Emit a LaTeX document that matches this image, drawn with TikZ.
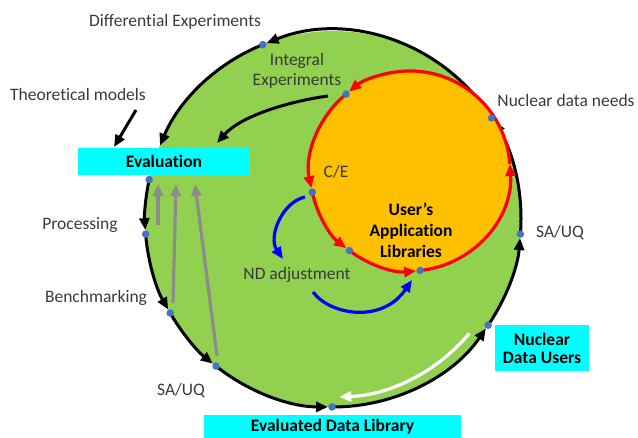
\documentclass[tikz,border=0pt]{standalone}
\usepackage{fontspec}
\setmainfont{Carlito}[Ligatures=NoCommon]
\usetikzlibrary{arrows.meta,calc}
\definecolor{grn}{HTML}{92D050}
\definecolor{org}{HTML}{FFC000}
\definecolor{dotblue}{HTML}{4472C4}
\definecolor{txtgray}{HTML}{3A3A3A}
\definecolor{cyanbox}{HTML}{00FFFF}
\definecolor{gry}{HTML}{8C8C8C}
\begin{document}
\begin{tikzpicture}[x=1pt,y=1pt,
  lbl/.style={text=txtgray, font=\fontsize{17.5}{20}\selectfont, align=center, inner sep=0},
  boxlbl/.style={fill=cyanbox, text=black, font=\fontsize{17.5}{18}\selectfont\bfseries, align=center, inner sep=0},
  inlbl/.style={text=black, font=\fontsize{17.5}{21}\selectfont\bfseries, align=center, inner sep=0},
  dot/.style={circle, fill=dotblue, inner sep=0, minimum size=7.5pt},
  tip/.style={-{Triangle[length=12pt,width=10pt]}},
  blk/.style={draw=black, line width=3pt, tip},
  redarc/.style={draw=red, line width=3.2pt, tip},
  bluearr/.style={draw=blue, line width=3.2pt, tip},
  grayarr/.style={draw=gry, line width=3.2pt, tip},
  whitearr/.style={draw=white, line width=3.2pt, tip},
]
\useasboundingbox (0,0) rectangle (638,437);
\coordinate (C) at (333,218);
\coordinate (R) at (410,266);
% big circle
\fill[grn] (C) circle[radius=188];
% points on big circle
\coordinate (pNdn)  at ($(C)+(32.5:188)$);
\coordinate (pDiff) at ($(C)+(111.9:188)$);
\coordinate (pEval) at ($(C)+(167.9:188)$);
\coordinate (pProc) at ($(C)+(184.6:188)$);
\coordinate (pBench) at ($(C)+(210:188)$);
\coordinate (pSAL) at ($(C)+(231.5:188)$);
\coordinate (pEDL) at ($(C)+(269.7:188)$);
\coordinate (pNDU) at ($(C)+(325.6:188)$);
\coordinate (pSAR) at ($(C)+(355.4:188)$);
% black cycle
\draw[blk,shorten >=4pt] (pNdn) arc[start angle=32.5, end angle=111.9, radius=188];
\draw[blk] (pDiff) arc[start angle=111.9, end angle=157, radius=188];
\draw[blk,shorten >=4pt] (pEval) arc[start angle=167.9, end angle=184.6, radius=188];
\draw[blk,shorten >=4pt] (pProc) arc[start angle=184.6, end angle=210, radius=188];
\draw[blk,shorten >=4pt] (pBench) arc[start angle=210, end angle=231.5, radius=188];
\draw[blk,shorten >=4pt] (pSAL) arc[start angle=231.5, end angle=269.7, radius=188];
\draw[blk,shorten >=4pt] (pEDL) arc[start angle=269.7, end angle=325.6, radius=188];
\draw[blk,shorten >=4pt] (pNDU) arc[start angle=325.6, end angle=355.4, radius=188];
\draw[blk,shorten >=4pt] (pSAR) arc[start angle=355.4, end angle=392.5, radius=188];
% inner circle
\fill[org] (R) circle[radius=100];
\coordinate (qNdn) at ($(R)+(33:100)$);
\coordinate (qTL)  at ($(R)+(129.7:100)$);
\coordinate (qCE)  at ($(R)+(192.2:100)$);
\coordinate (qL1)  at ($(R)+(232.7:100)$);
\coordinate (qL2)  at ($(R)+(275.8:100)$);
\coordinate (qRt)  at ($(R)+(4:100)$);
\draw[redarc,shorten >=4pt] (qNdn) arc[start angle=33, end angle=129.7, radius=100];
\draw[redarc,shorten >=4pt] (qTL) arc[start angle=129.7, end angle=192.2, radius=100];
\draw[redarc,shorten >=4pt] (qCE) arc[start angle=192.2, end angle=232.7, radius=100];
\draw[redarc,shorten >=4pt] (qL1) arc[start angle=232.7, end angle=275.8, radius=100];
\draw[redarc] (qL2) arc[start angle=275.8, end angle=364, radius=100];
\draw[draw=red, line width=3.2pt] (qRt) arc[start angle=4, end angle=33, radius=100];
% gray arrows
\coordinate (g1s) at (158,212); \coordinate (g1e) at (158,253);
\coordinate (g2s) at (173,134); \coordinate (g2e) at (176,253);
\coordinate (g3s) at (217,81);  \coordinate (g3e) at (195,253);
\draw[grayarr] (g1s) -- (g1e);
\draw[grayarr] (g2s) -- (g2e);
\draw[grayarr] (g3s) -- (g3e);
% blue arrows
\coordinate (b1s) at (305,240); \coordinate (b1e) at (283,178);
\draw[bluearr] (b1s) .. controls (282,235) and (268,200) .. (b1e);
\coordinate (b2s) at (313,145); \coordinate (b2e) at (412,157);
\draw[bluearr] (b2s) .. controls (330,122) and (382,113) .. (b2e);
% white arrow
\coordinate (w1s) at ($(C)+(-40:178)$);
\draw[whitearr] (w1s) arc[start angle=-40, end angle=-88, radius=178];
% integral experiments arrow
\coordinate (i1s) at (328,341); \coordinate (i1e) at (217,294);
\draw[blk] (i1s) .. controls (285,335) and (240,320) .. (i1e);
% theoretical models arrow
\coordinate (t1s) at (136,327); \coordinate (t1e) at (114,290);
\draw[blk] (t1s) -- (t1e);
% boxes
\node[boxlbl, minimum width=172pt, minimum height=27pt] (eval) at (164,275.5) {Evaluation};
\node[boxlbl, minimum width=257pt, minimum height=24pt] (edl) at (332.5,10) {Evaluated Data Library};
\node[boxlbl, minimum width=94pt, minimum height=46pt] (ndu) at (542,89) {Nuclear\\Data Users};
% labels
\node[lbl] (ldiff) at (175,415) {Differential Experiments};
\node[lbl] (lint) at (297,366) {Integral\\Experiments};
\node[lbl] (ltheo) at (78,343) {Theoretical models};
\node[lbl] (lndn) at (566,337) {Nuclear data needs};
\node[lbl] (lce) at (336,265) {C/E};
\node[inlbl] (luser) at (411,207) {User’s\\Application\\Libraries};
\node[lbl] (lnda) at (297,162) {ND adjustment};
\node[lbl] (lproc) at (80,212) {Processing};
\node[lbl] (lbench) at (96,139) {Benchmarking};
\node[lbl] (lsal) at (181,46) {SA/UQ};
\node[lbl] (lsar) at (560,204) {SA/UQ};
% dots
\foreach \p in {pNdn,pDiff,pEval,pProc,pBench,pSAL,pEDL,pNDU,pSAR,qTL,qCE,qL1,qL2}
  \node[dot] (d\p) at (\p) {};
\end{tikzpicture}
\end{document}
